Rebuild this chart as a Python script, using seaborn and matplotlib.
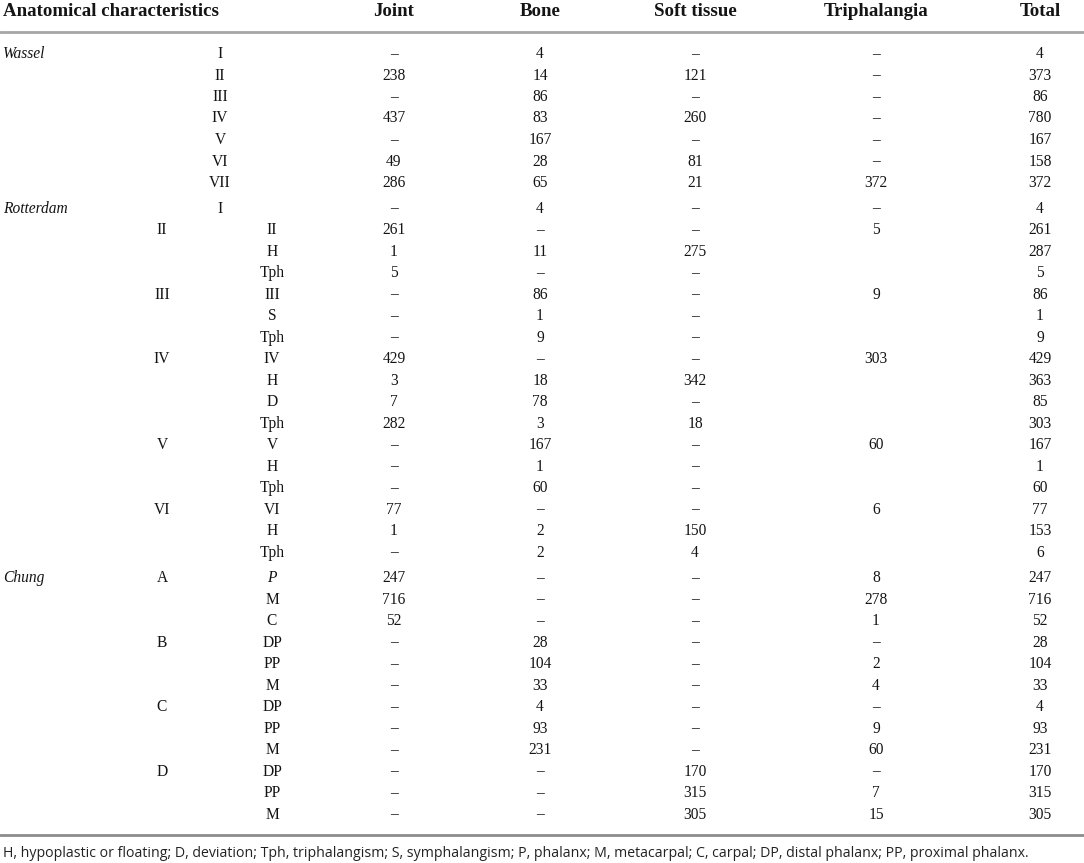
import matplotlib
matplotlib.use("Agg")
import matplotlib.pyplot as plt
import seaborn as sns

sns.set_theme(style="white")
plt.rcParams['font.family'] = ['Liberation Serif', 'DejaVu Serif']

D = "\u2013"

columns = ["Joint", "Bone", "Soft tissue", "Triphalangia", "Total"]
header_label = "Anatomical characteristics"

# Wassel
wassel_level = ["I", "II", "III", "IV", "V", "VI", "VII"]
wassel_joint = [D, "238", D, "437", D, "49", "286"]
wassel_bone = ["4", "14", "86", "83", "167", "28", "65"]
wassel_soft = [D, "121", D, "260", D, "81", "21"]
wassel_triph = [D, D, D, D, D, D, "372"]
wassel_total = ["4", "373", "86", "780", "167", "158", "372"]

# Rotterdam
rot_first = ["I", "", "", "", "", "", "", "", "", "", "", "", "", "", "", "", ""]
rot_sub = ["", "II", "", "", "III", "", "", "IV", "", "", "", "V", "", "", "VI", "", ""]
rot_level = ["", "II", "H", "Tph", "III", "S", "Tph", "IV", "H", "D", "Tph",
             "V", "H", "Tph", "VI", "H", "Tph"]
rot_joint = [D, "261", "1", "5", D, D, D, "429", "3", "7", "282", D, D, D, "77", "1", D]
rot_bone = ["4", D, "11", D, "86", "1", "9", D, "18", "78", "3", "167", "1", "60", D, "2", "2"]
rot_soft = [D, D, "275", D, D, D, D, D, "342", D, "18", D, D, D, D, "150", "4"]
rot_triph = [D, "5", "", "", "9", "", "", "303", "", "", "", "60", "", "", "6", "", ""]
rot_total = ["4", "261", "287", "5", "86", "1", "9", "429", "363", "85", "303",
             "167", "1", "60", "77", "153", "6"]

# Chung
chung_sub = ["A", "", "", "B", "", "", "C", "", "", "D", "", ""]
chung_level = ["P", "M", "C", "DP", "PP", "M", "DP", "PP", "M", "DP", "PP", "M"]
chung_joint = ["247", "716", "52", D, D, D, D, D, D, D, D, D]
chung_bone = [D, D, D, "28", "104", "33", "4", "93", "231", D, D, D]
chung_soft = [D, D, D, D, D, D, D, D, D, "170", "315", "305"]
chung_triph = ["8", "278", "1", D, "2", "4", D, "9", "60", D, "7", "15"]
chung_total = ["247", "716", "52", "28", "104", "33", "4", "93", "231", "170", "315", "305"]

footnote = ("H, hypoplastic or floating; D, deviation; Tph, triphalangism; S, symphalangism; "
            "P, phalanx; M, metacarpal; C, carpal; DP, distal phalanx; PP, proximal phalanx.")

W, H = 1084, 863
fig = plt.figure(figsize=(W / 100, H / 100), dpi=100)
ax = fig.add_axes([0, 0, 1, 1])
ax.set_xlim(0, W)
ax.set_ylim(H, 0)
ax.axis("off")

col_x = [394, 540, 695, 876, 1040]
x_group = 3
x_sub = 162
x_first = 220
x_level = 272

body_fs = 11.2
head_fs = 13.6
color = "#141414"

# header
ax.text(x_group, 11, header_label, ha="left", va="center", fontsize=head_fs,
        fontweight="bold", color=color)
for cx, c in zip(col_x, columns):
    ax.text(cx, 11, c, ha="center", va="center", fontsize=head_fs,
            fontweight="bold", color=color)

ax.axhline(32, color="#a6a6a6", lw=2)
ax.axhline(835, color="#8c8c8c", lw=2)

y0 = 54.0
step = 21.5
gap = 4.0


def cell(x, y, s, italic=False, ha="center"):
    if s:
        ax.text(x, y, s, ha=ha, va="center", fontsize=body_fs, color=color,
                style="italic" if italic else "normal")


y = y0
for i in range(len(wassel_level)):
    if i == 0:
        cell(x_group, y, "Wassel", italic=True, ha="left")
    cell(x_first, y, wassel_level[i])
    for cx, vals in zip(col_x, [wassel_joint, wassel_bone, wassel_soft, wassel_triph, wassel_total]):
        cell(cx, y, vals[i])
    y += step

y += gap
for i in range(len(rot_level)):
    if i == 0:
        cell(x_group, y, "Rotterdam", italic=True, ha="left")
    cell(x_first, y, rot_first[i])
    cell(x_sub, y, rot_sub[i])
    cell(x_level, y, rot_level[i])
    for cx, vals in zip(col_x, [rot_joint, rot_bone, rot_soft, rot_triph, rot_total]):
        cell(cx, y, vals[i])
    y += step

y += gap
for i in range(len(chung_level)):
    if i == 0:
        cell(x_group, y, "Chung", italic=True, ha="left")
    cell(x_sub, y, chung_sub[i])
    cell(x_level, y, chung_level[i], italic=(chung_level[i] == "P" and i == 0))
    for cx, vals in zip(col_x, [chung_joint, chung_bone, chung_soft, chung_triph, chung_total]):
        cell(cx, y, vals[i])
    y += step

ax.text(3, 853, footnote, ha="left", va="center", fontsize=10.2, color="#222222",
        family=["Open Sans", "DejaVu Sans"])

fig.savefig("out.png", dpi=100)
